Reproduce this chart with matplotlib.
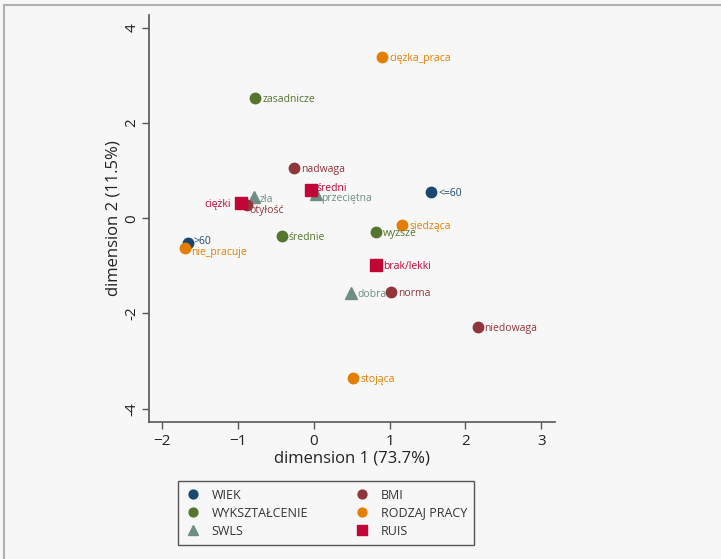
import matplotlib.pyplot as plt

plt.rcParams['font.family'] = ['Open Sans', 'DejaVu Sans']

# coordinates of category points, grouped by variable
wiek_lab = ["<=60", ">60"]
wiek_x = [1.55, -1.66]
wiek_y = [0.56, -0.51]

wyk_lab = ["zasadnicze", "średnie", "wyższe"]
wyk_x = [-0.77, -0.42, 0.82]
wyk_y = [2.53, -0.37, -0.28]

swls_lab = ["zła", "przeciętna", "dobra"]
swls_x = [-0.79, 0.03, 0.49]
swls_y = [0.45, 0.51, -1.57]

bmi_lab = ["nadwaga", "otyłość", "norma", "niedowaga"]
bmi_x = [-0.26, -0.88, 1.02, 2.16]
bmi_y = [1.06, 0.28, -1.54, -2.28]

praca_lab = ["ciężka_praca", "siedząca", "nie_pracuje", "stojąca"]
praca_x = [0.90, 1.17, -1.69, 0.52]
praca_y = [3.39, -0.14, -0.62, -3.35]

ruis_lab = ["średni", "ciężki", "brak/lekki"]
ruis_x = [-0.03, -0.96, 0.82]
ruis_y = [0.60, 0.33, -0.98]

# label nudges (points) for crowded spots
nudge = {
    "ciężki": (-7, 0),
    "otyłość": (2, -3),
    ">60": (4, 2),
    "nie_pracuje": (4, -2),
    "średni": (4, 2),
    "przeciętna": (4, -2),
    "zła": (4, -1),
}

bg = "#f7f7f7"
fig = plt.figure(figsize=(7.21, 5.59), dpi=100, facecolor=bg)
ax = fig.add_axes([0.2067, 0.2451, 0.5631, 0.7281])
ax.set_facecolor(bg)

groups = [
    ("WIEK", wiek_lab, wiek_x, wiek_y, "#1a476f", "o", 7.5),
    ("WYKSZTAŁCENIE", wyk_lab, wyk_x, wyk_y, "#55752f", "o", 7.5),
    ("SWLS", swls_lab, swls_x, swls_y, "#6e8e84", "^", 8.5),
    ("BMI", bmi_lab, bmi_x, bmi_y, "#90353b", "o", 7.5),
    ("RODZAJ PRACY", praca_lab, praca_x, praca_y, "#e37e00", "o", 7.5),
    ("RUIS", ruis_lab, ruis_x, ruis_y, "#c10534", "s", 8),
]

handles = []
for name, labs, xs, ys, col, mk, ms in groups:
    h, = ax.plot(xs, ys, ls="none", marker=mk, ms=ms, color=col,
                 mec=col, label=name)
    handles.append(h)
    for lab, x, y in zip(labs, xs, ys):
        off = nudge.get(lab, (5, 0))
        ha = "right" if off[0] < 0 else "left"
        ax.annotate(lab, (x, y), xytext=off, textcoords="offset points",
                    ha=ha, va="center_baseline", fontsize=7.5, color=col)

ax.set_xlim(-2.17, 3.18)
ax.set_ylim(-4.28, 4.27)
ax.set_xticks([-2, -1, 0, 1, 2, 3])
ax.set_yticks([-4, -2, 0, 2, 4])
ax.set_yticklabels(["-4", "-2", "0", "2", "4"], rotation=90, va="center")

for s in ["top", "right"]:
    ax.spines[s].set_visible(False)
for s in ["left", "bottom"]:
    ax.spines[s].set_color("#555555")
    ax.spines[s].set_linewidth(1.2)
ax.tick_params(length=5, width=1, color="#555555", labelsize=11,
               labelcolor="#222222")
ax.tick_params(axis="y", pad=2)
ax.set_xlabel("dimension 1 (73.7%)", fontsize=12, color="#222222", labelpad=1)
ax.set_ylabel("dimension 2 (11.5%)", fontsize=12, color="#222222", labelpad=2)

leg = fig.legend(handles=handles, ncol=2, loc="center",
                 bbox_to_anchor=(0.247, 0.0197, 0.411, 0.125), mode="expand",
                 borderaxespad=0,
                 fontsize=9, frameon=True, fancybox=False, edgecolor="#555555",
                 facecolor=bg, framealpha=1, handlelength=1.2, handletextpad=0.9,
                 borderpad=0.6, labelspacing=0.4, markerscale=0.85)
leg.get_frame().set_linewidth(1)
for t in leg.get_texts():
    t.set_color("#333333")

# outer frame lines on top and left edge
fig.add_artist(plt.Line2D([0.006, 1], [0.991, 0.991], color="#b0b0b0", lw=1.5,
                          transform=fig.transFigure))
fig.add_artist(plt.Line2D([0.006, 0.006], [0, 0.991], color="#b0b0b0", lw=1.5,
                          transform=fig.transFigure))

fig.savefig("out.png", dpi=100, facecolor=bg)
